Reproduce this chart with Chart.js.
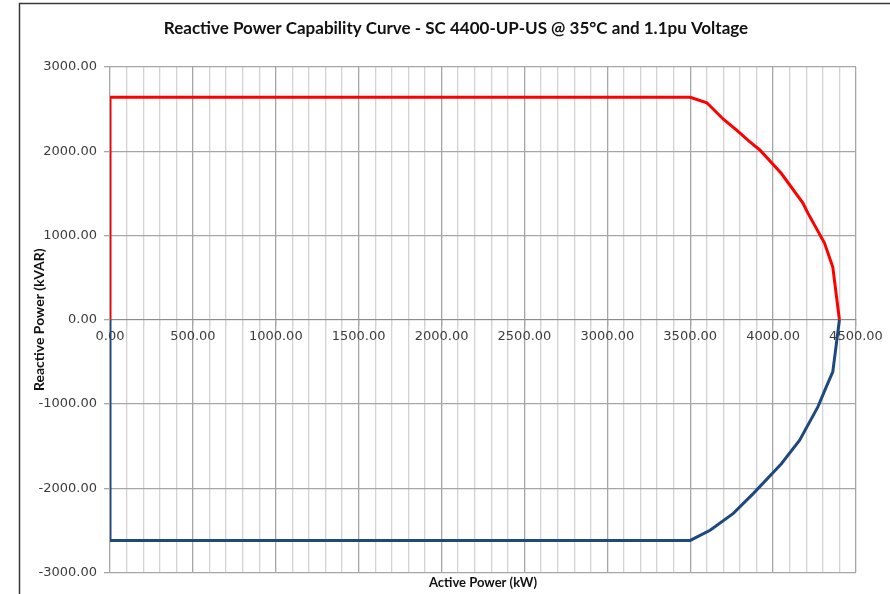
<!DOCTYPE html>
<html>
<head>
<meta charset="utf-8">
<script src="https://cdn.jsdelivr.net/npm/chart.js@4.4.0/dist/chart.umd.min.js"></script>
<style>
    html, body { margin: 0; padding: 0; background: #ffffff; }
    #wrap { width: 890px; height: 594px; position: relative; }
</style>
</head>
<body>
<div id="wrap"><canvas id="capChart"></canvas></div>
<script>
// Capability curve points (kW, kVAR)
const leadingP = [0, 0, 3500, 3600, 3700, 3780, 3860, 3920, 4050, 4180, 4210, 4310, 4360, 4400];
const leadingQ = [0, 2640, 2640, 2575, 2380, 2250, 2110, 2015, 1735, 1385, 1265, 910, 625, 0];

const laggingP = [0, 0, 3500, 3620, 3760, 3880, 4050, 4160, 4270, 4320, 4360, 4400];
const laggingQ = [0, -2620, -2620, -2500, -2300, -2065, -1710, -1430, -1035, -800, -620, 0];

const xRange = [0, 4500];
const yRange = [-3000, 3000];
const xMinorStep = 100;
const xMajorStep = 500;
const yStep = 1000;

const chartTitle = 'Reactive Power Capability Curve - SC 4400-UP-US @ 35\u00B0C and 1.1pu Voltage';
const xTitle = 'Active Power (kW)';
const yTitle = 'Reactive Power (kVAR)';

function toPoints(xs, ys) {
    return xs.map((x, i) => ({ x: x, y: ys[i] }));
}

// outer frame of the original sheet object + nudge the title to where it sits
const framePlugin = {
    id: 'frame',
    afterLayout(chart) {
        const t = chart.titleBlock;
        if (t) {
            t.left += 34;
        }
    },
    beforeDraw(chart) {
        const ctx = chart.ctx;
        ctx.save();
        ctx.strokeStyle = '#3a3a3a';
        ctx.lineWidth = 1.5;
        ctx.beginPath();
        ctx.moveTo(19.5, 700);
        ctx.lineTo(19.5, 3.5);
        ctx.lineTo(1000, 3.5);
        ctx.stroke();
        ctx.restore();
    }
};

const ctx = document.getElementById('capChart').getContext('2d');
new Chart(ctx, {
    type: 'scatter',
    data: {
        datasets: [{
            label: 'Lagging',
            data: toPoints(laggingP, laggingQ),
            borderColor: '#1F497D',
            backgroundColor: '#1F497D',
            borderWidth: 3,
            showLine: true,
            pointRadius: 0,
            tension: 0
        }, {
            label: 'Leading',
            data: toPoints(leadingP, leadingQ),
            borderColor: '#FF0000',
            backgroundColor: '#FF0000',
            borderWidth: 3,
            showLine: true,
            pointRadius: 0,
            tension: 0
        }]
    },
    options: {
        responsive: true,
        maintainAspectRatio: false,
        animation: false,
        layout: {
            padding: { left: 22, right: 34, top: 0, bottom: 0 }
        },
        plugins: {
            legend: { display: false },
            tooltip: { enabled: false },
            title: {
                display: true,
                text: chartTitle,
                color: '#111111',
                font: { family: 'Lato', size: 17, weight: 'bold' },
                padding: { top: 18, bottom: 28.6 }
            },
            subtitle: {
                display: true,
                position: 'bottom',
                fullSize: false,
                text: xTitle,
                color: '#111111',
                font: { family: 'Lato', size: 13, weight: 'bold' },
                padding: { top: 3, bottom: 3 }
            }
        },
        scales: {
            x: {
                type: 'linear',
                position: { y: 0 },
                min: xRange[0],
                max: xRange[1],
                border: { display: true, color: '#8c8c8c' },
                grid: {
                    color: (c) => (c.tick && c.tick.value % xMajorStep === 0) ? '#a6a6a6' : '#d3d3d3',
                    lineWidth: 1.3,
                    tickLength: 6
                },
                ticks: {
                    stepSize: xMinorStep,
                    autoSkip: false,
                    maxRotation: 0,
                    padding: 3,
                    color: '#3c3c3c',
                    font: { family: 'DejaVu Sans', size: 13 },
                    callback: (v) => (v % xMajorStep === 0) ? v.toFixed(2) : ''
                }
            },
            y: {
                type: 'linear',
                position: 'left',
                min: yRange[0],
                max: yRange[1],
                afterFit: (scale) => { scale.width = 88; },
                border: { display: false },
                grid: {
                    color: '#a6a6a6',
                    lineWidth: 1.3,
                    tickLength: 6
                },
                ticks: {
                    stepSize: yStep,
                    padding: 7,
                    color: '#3c3c3c',
                    font: { family: 'DejaVu Sans', size: 13 },
                    callback: (v) => v.toFixed(2)
                },
                title: {
                    display: true,
                    text: yTitle,
                    color: '#111111',
                    font: { family: 'Lato', size: 14, weight: 'bold' },
                    padding: { top: 9, bottom: 0 }
                }
            }
        }
    },
    plugins: [framePlugin]
});
</script>
</body>
</html>
